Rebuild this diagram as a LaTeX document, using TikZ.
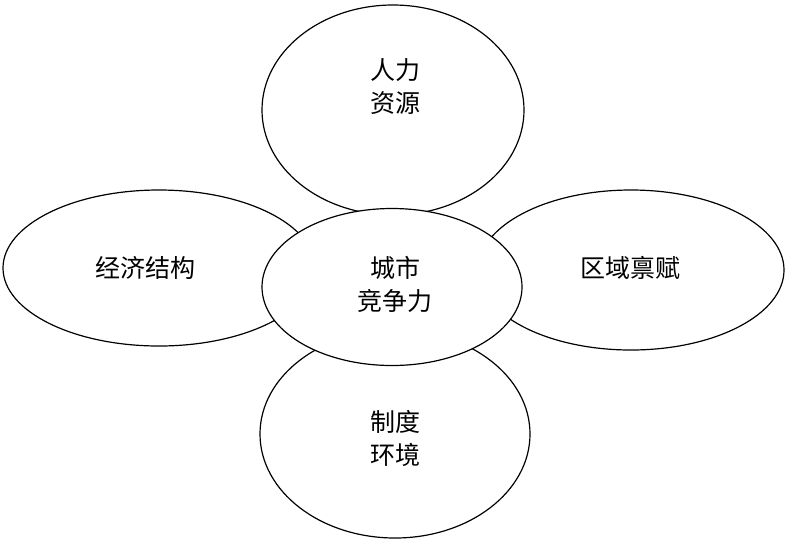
\documentclass[tikz,border=0pt]{standalone}
\usepackage{fontspec}
\setmainfont{Noto Sans CJK SC}
\usetikzlibrary{shapes.geometric}
\tikzset{petal/.style={ellipse,draw,line width=1.2pt,fill=white,inner sep=0pt},
  word/.style={font=\fontsize{25}{33}\selectfont,align=center}}
\begin{document}
\begin{tikzpicture}[x=1pt,y=-1pt]
\useasboundingbox (0,0) rectangle (789,542);
% outer petals
\node[petal,minimum width=262pt,minimum height=210pt] (top) at (393,110) {};
\node[petal,minimum width=270pt,minimum height=208pt] (bottom) at (395,434) {};
\node[petal,minimum width=312pt,minimum height=156pt] (left) at (159,268) {};
\node[petal,minimum width=306pt,minimum height=160pt] (right) at (631,270) {};
% centre
\node[petal,minimum width=260pt,minimum height=157pt] (core) at (392,287) {};
\node[word] (toplabel) at (395,87) {人力\\资源};
\node[word] (bottomlabel) at (395,438) {制度\\环境};
\node[word] (leftlabel) at (145,268) {经济结构};
\node[word] (rightlabel) at (630,268) {区域禀赋};
\node[word] (corelabel) at (395,284) {城市\\竞争力};
\end{tikzpicture}
\end{document}
